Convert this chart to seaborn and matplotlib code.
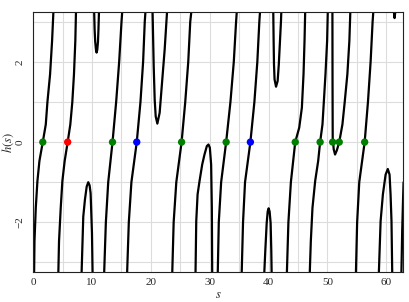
import numpy as np
import pandas as pd
import matplotlib
matplotlib.use("Agg")
import matplotlib.pyplot as plt
from matplotlib.ticker import MultipleLocator
import seaborn as sns

# Branches of h(s) (s, h pairs)
# rising branches, each one crosses zero
rise_a_s = [0.12, 0.17, 0.23, 0.45, 0.73, 1.07, 1.64, 2.15, 2.43, 2.88, 3.22, 3.44, 3.50]
rise_a_h = [-3.5, -3.22, -2.47, -1.64, -0.97, -0.47, 0.0, 0.44, 1.0, 1.69, 2.52, 3.23, 3.5]
rise_b_s = [4.25, 4.29, 4.40, 4.69, 4.97, 5.36, 5.87, 6.32, 6.66, 6.94, 7.17, 7.28, 7.32]
rise_b_h = [-3.5, -3.22, -2.47, -1.64, -0.97, -0.47, 0.0, 0.44, 1.0, 1.69, 2.52, 3.23, 3.5]
rise_c_s = [12.04, 12.08, 12.36, 12.76, 13.49, 14.11, 14.62, 15.02, 15.13, 15.18]
rise_c_h = [-3.5, -3.22, -2.0, -1.0, 0.0, 1.0, 2.0, 3.0, 3.23, 3.5]
rise_d_s = [15.94, 15.98, 16.26, 16.70, 17.61, 18.24, 18.69, 18.97, 19.08, 19.13]
rise_d_h = [-3.5, -3.22, -2.0, -1.0, 0.0, 1.0, 2.0, 3.0, 3.23, 3.5]
rise_e_s = [23.61, 23.65, 23.88, 24.33, 25.23, 25.85, 26.36, 26.70, 26.87, 26.92]
rise_e_h = [-3.5, -3.22, -2.0, -1.0, 0.0, 1.0, 2.0, 3.0, 3.23, 3.5]
rise_f_s = [31.34, 31.38, 31.55, 31.95, 32.80, 33.53, 34.10, 34.49, 34.60, 34.65]
rise_f_h = [-3.5, -3.22, -2.0, -1.0, 0.0, 1.0, 2.0, 3.0, 3.23, 3.5]
rise_g_s = [35.41, 35.45, 35.67, 36.01, 36.92, 37.60, 38.10, 38.44, 38.55, 38.60]
rise_g_h = [-3.5, -3.22, -2.0, -1.0, 0.0, 1.0, 2.0, 3.0, 3.23, 3.5]
rise_h_s = [43.09, 43.13, 43.38, 43.80, 44.54, 45.22, 45.67, 45.95, 46.12, 46.23, 46.27]
rise_h_h = [-3.5, -3.22, -2.0, -1.0, 0.0, 0.36, 0.86, 1.69, 2.52, 3.23, 3.5]
rise_i_s = [46.98, 47.02, 47.19, 47.47, 47.93, 48.44, 48.77, 49.17, 49.40, 49.68, 49.96, 50.07, 50.11]
rise_i_h = [-3.5, -3.22, -2.47, -1.64, -0.97, -0.47, 0.0, 0.44, 1.0, 1.69, 2.52, 3.23, 3.5]
rise_j_s = [54.82, 54.86, 55.06, 55.42, 56.34, 56.90, 57.35, 57.69, 57.80, 57.85]
rise_j_h = [-3.5, -3.22, -2.0, -1.0, 0.0, 1.0, 2.0, 3.0, 3.23, 3.5]
rise_k_s = [62.55, 62.62, 62.72, 62.85, 62.95]
rise_k_h = [-3.5, -3.0, -2.2, -1.5, -1.0]

# U-shaped branches hanging from +inf
cup_1_s = [10.36, 10.38, 10.45, 10.55, 10.68, 10.78, 10.90, 11.02, 11.10, 11.18, 11.20]
cup_1_h = [3.5, 3.2, 2.8, 2.5, 2.3, 2.23, 2.3, 2.5, 2.8, 3.2, 3.5]
cup_2_s = [20.25, 20.30, 20.49, 20.66, 20.83, 21.11, 21.50, 21.90, 22.35, 22.75, 22.85]
cup_2_h = [3.5, 3.23, 1.89, 1.05, 0.64, 0.46, 0.73, 1.47, 2.30, 3.23, 3.5]
cup_3_s = [40.80, 40.81, 40.87, 40.93, 41.03, 41.28, 41.55, 41.75, 41.95, 42.12, 42.17, 42.20]
cup_3_h = [3.5, 3.23, 2.52, 1.94, 1.56, 1.38, 1.52, 1.94, 2.52, 3.02, 3.23, 3.5]
cup_4_s = [50.84, 50.86, 50.88, 50.91, 51.08, 51.31, 51.60, 52.02, 52.56, 52.95, 53.40, 53.74, 53.90, 53.94]
cup_4_h = [3.5, 3.23, 1.5, 0.11, -0.18, -0.31, -0.21, 0.0, 0.44, 1.0, 1.69, 2.52, 3.23, 3.5]
cup_5_s = [61.25, 61.30, 61.42, 61.55, 61.60]
cup_5_h = [3.5, 3.25, 3.09, 3.25, 3.5]

# cap-shaped branches rising from -inf
cap_1_s = [8.22, 8.24, 8.52, 8.80, 9.10, 9.37, 9.60, 9.77, 10.00, 10.10, 10.12]
cap_1_h = [-3.5, -3.24, -1.86, -1.44, -1.11, -1.0, -1.08, -1.28, -2.27, -3.24, -3.5]
cap_2_s = [27.58, 27.60, 27.72, 27.95, 28.28, 28.73, 29.12, 29.52, 29.80, 30.03, 30.25, 30.37, 30.43, 30.45]
cap_2_h = [-3.5, -3.22, -1.97, -1.30, -0.97, -0.56, -0.31, -0.10, -0.06, -0.14, -0.56, -1.64, -3.22, -3.5]
cap_3_s = [39.27, 39.29, 39.46, 39.69, 39.86, 40.02, 40.19, 40.36, 40.47, 40.53, 40.55]
cap_3_h = [-3.5, -3.23, -2.69, -2.02, -1.73, -1.65, -1.73, -2.02, -2.69, -3.23, -3.5]
cap_4_s = [58.74, 58.76, 59.05, 59.44, 59.90, 60.27, 60.57, 60.74, 60.90, 61.02, 61.04]
cap_4_h = [-3.5, -3.22, -1.97, -1.30, -0.81, -0.67, -0.81, -1.30, -1.97, -3.22, -3.5]

# zeros marked on the curve
zero_s = [1.64, 5.87, 13.49, 17.61, 25.23, 32.80, 36.92, 44.54, 48.77, 50.90, 52.02, 56.34]
zero_kind = ["green", "red", "green", "blue", "green", "green", "blue",
             "green", "green", "green", "green", "green"]

branches = {
    "rise_a": (rise_a_s, rise_a_h), "rise_b": (rise_b_s, rise_b_h),
    "rise_c": (rise_c_s, rise_c_h), "rise_d": (rise_d_s, rise_d_h),
    "rise_e": (rise_e_s, rise_e_h), "rise_f": (rise_f_s, rise_f_h),
    "rise_g": (rise_g_s, rise_g_h), "rise_h": (rise_h_s, rise_h_h),
    "rise_i": (rise_i_s, rise_i_h), "rise_j": (rise_j_s, rise_j_h),
    "rise_k": (rise_k_s, rise_k_h),
    "cup_1": (cup_1_s, cup_1_h), "cup_2": (cup_2_s, cup_2_h),
    "cup_3": (cup_3_s, cup_3_h), "cup_4": (cup_4_s, cup_4_h),
    "cup_5": (cup_5_s, cup_5_h),
    "cap_1": (cap_1_s, cap_1_h), "cap_2": (cap_2_s, cap_2_h),
    "cap_3": (cap_3_s, cap_3_h), "cap_4": (cap_4_s, cap_4_h),
}

curve = pd.concat(
    [pd.DataFrame({"s": s, "h": h, "branch": name}) for name, (s, h) in branches.items()],
    ignore_index=True,
)
zeros = pd.DataFrame({"s": zero_s, "h": np.zeros(len(zero_s)), "kind": zero_kind})

sns.set_theme(style="whitegrid")
plt.rcParams["font.family"] = ["Liberation Serif", "DejaVu Serif"]
plt.rcParams["mathtext.fontset"] = "stix"

fig, ax = plt.subplots(figsize=(4.09, 3.02), dpi=100)
fig.subplots_adjust(left=0.081, right=0.985, top=0.960, bottom=0.099)

sns.lineplot(data=curve, x="s", y="h", units="branch", estimator=None, sort=False,
             color="black", linewidth=1.6, ax=ax)
sns.scatterplot(data=zeros, x="s", y="h", hue="kind",
                palette={"green": "green", "red": "red", "blue": "blue"},
                s=28, linewidth=0, legend=False, zorder=3, ax=ax)

ax.set_xlim(0, 20 * np.pi)
ax.set_ylim(-3.24, 3.24)
ax.xaxis.set_major_locator(MultipleLocator(10))
ax.xaxis.set_minor_locator(MultipleLocator(5))
ax.yaxis.set_major_locator(MultipleLocator(2))
ax.yaxis.set_minor_locator(MultipleLocator(1))
ax.grid(which="both", color="#dcdcdc", linewidth=0.8)
ax.tick_params(which="both", length=0, labelsize=8)
ax.tick_params(axis="x", pad=4)
ax.tick_params(axis="y", pad=6)
for lab in ax.get_yticklabels():
    lab.set_rotation(90)
    lab.set_va("center")
for sp in ax.spines.values():
    sp.set_color("#222222")
    sp.set_linewidth(0.8)

ax.set_xlabel("$s$", fontsize=9)
ax.set_ylabel("$h(s)$", fontsize=9)
ax.xaxis.set_label_coords(0.5, -0.065)
ax.yaxis.set_label_coords(-0.047, 0.5)

fig.savefig("out.png", dpi=100)
